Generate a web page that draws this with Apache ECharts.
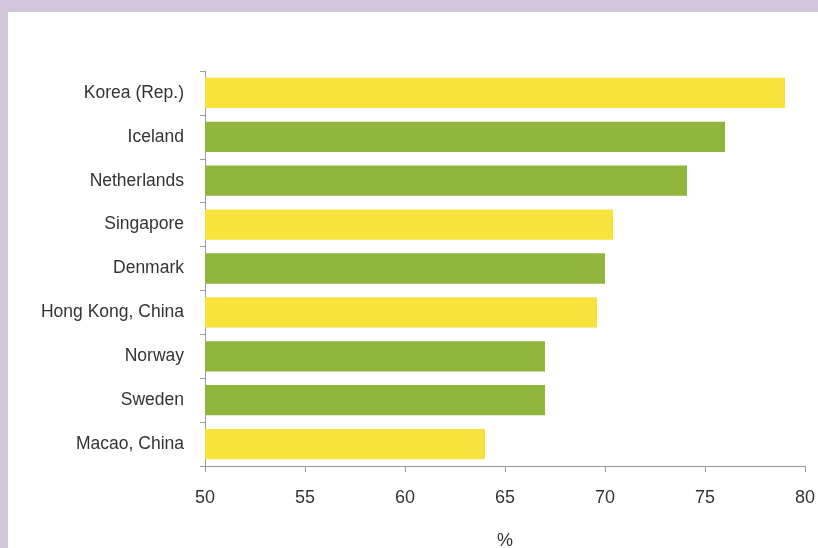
<!DOCTYPE html>
<html>
<head>
<meta charset="utf-8">
<script src="https://cdn.jsdelivr.net/npm/echarts@6/dist/echarts.min.js"></script>
<style>
  html, body { margin: 0; padding: 0; }
  body { width: 818px; height: 548px; background: #d3c6da; position: relative; overflow: hidden; }
  #chart { position: absolute; left: 8px; top: 12px; width: 810px; height: 536px; background: #ffffff; }
</style>
</head>
<body>
<div id="chart"></div>
<script>
// Economies, top to bottom
const categories = ['Korea (Rep.)', 'Iceland', 'Netherlands', 'Singapore', 'Denmark',
                    'Hong Kong, China', 'Norway', 'Sweden', 'Macao, China'];
// Share in percent
const values = [79, 76, 74.1, 70.4, 70, 69.6, 67, 67, 64];
// Highlight group: 'a' = Asian economies (yellow), 'b' = others (green)
const groups = ['a', 'b', 'b', 'a', 'b', 'a', 'b', 'b', 'a'];
const xTicks = [50, 55, 60, 65, 70, 75, 80];

const palette = { a: '#f7e33c', b: '#8fb53d' };
const axisColor = '#9a9a9a';
const textColor = '#333333';
const font = 'Liberation Sans, Arial, sans-serif';

const chart = echarts.init(document.getElementById('chart'), null, { renderer: 'canvas' });
chart.setOption({
  animation: false,
  grid: { left: 197, right: 13, top: 59, bottom: 82, containLabel: false, outerBoundsMode: 'none' },
  xAxis: {
    type: 'value',
    min: xTicks[0],
    max: xTicks[xTicks.length - 1],
    interval: 5,
    name: '%',
    nameLocation: 'middle',
    nameGap: 66,
    nameTextStyle: { color: textColor, fontSize: 18, fontFamily: font },
    axisLine: { show: true, lineStyle: { color: axisColor, width: 1 } },
    axisTick: { show: true, length: 6, lineStyle: { color: axisColor } },
    axisLabel: { color: textColor, fontSize: 18, fontFamily: font, margin: 23 },
    splitLine: { show: false }
  },
  yAxis: {
    type: 'category',
    data: categories,
    inverse: true,
    axisLine: { show: true, lineStyle: { color: axisColor, width: 1 } },
    axisTick: { show: true, length: 5, lineStyle: { color: axisColor } },
    axisLabel: { color: textColor, fontSize: 17.5, fontFamily: font, margin: 21 }
  },
  series: [{
    type: 'bar',
    data: values.map((v, i) => ({ value: v, itemStyle: { color: palette[groups[i]] } })),
    barCategoryGap: '31%'
  }]
});
</script>
</body>
</html>
